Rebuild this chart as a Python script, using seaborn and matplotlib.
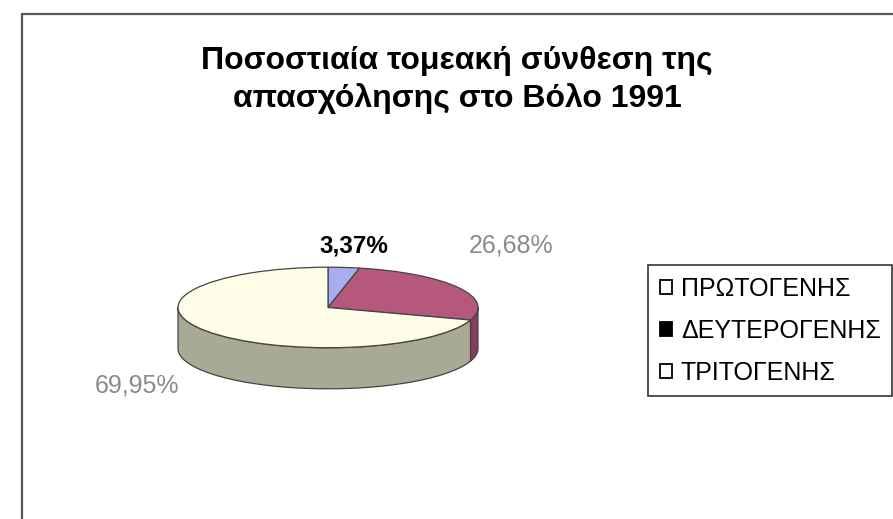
import numpy as np
import matplotlib
matplotlib.use("Agg")
import matplotlib.pyplot as plt
import seaborn as sns
from matplotlib.patches import Patch, Rectangle, Polygon

sns.set_theme(style="white")
plt.rcParams['font.family'] = ['Liberation Sans', 'DejaVu Sans']
plt.rcParams['text.color'] = 'black'

# ---- data ----
categories = ["ΠΡΩΤΟΓΕΝΗΣ", "ΔΕΥΤΕΡΟΓΕΝΗΣ", "ΤΡΙΤΟΓΕΝΗΣ"]
values = [3.37, 26.68, 69.95]
value_labels = ["3,37%", "26,68%", "69,95%"]
top_colors = ["#a9acef", "#b5587b", "#fdfde8"]
side_colors = ["#7f84c4", "#8a3c5d", "#a8aa95"]
legend_face = ["white", "black", "white"]
title = "Ποσοστιαία τομεακή σύνθεση της\nαπασχόλησης στο Βόλο 1991"

W, H = 893, 519
fig = plt.figure(figsize=(W / 100, H / 100), dpi=100)
fig.patch.set_facecolor("white")

# chart frame
fig.patches.append(Rectangle((22 / W, -0.1), 1.0, (H - 14) / H + 0.1,
                             transform=fig.transFigure, fill=False,
                             edgecolor="#555555", linewidth=1.6))

fig.text(457 / W, 1 - 80 / H, title, ha="center", va="center",
         fontsize=23, fontweight="bold", linespacing=1.3, color="black")

# pie axes (top face ellipse + extruded side)
depth = 1.02
ax = fig.add_axes([175 / W, (H - 390) / H, 306 / W, 124 / H])
wedges, _ = ax.pie(values, colors=top_colors, startangle=90, counterclock=False,
                   radius=1, wedgeprops=dict(edgecolor="#444444", linewidth=0.9))
for w in wedges:
    w.set_zorder(3)

total = float(sum(values))
cum = np.cumsum([0] + values) / total
bounds = 90 - 360 * cum  # decreasing angles
for k in range(len(values)):
    lo, hi = bounds[k + 1], bounds[k]
    a0, a1 = max(lo, -180), min(hi, 0)
    if a1 <= a0:
        continue
    th = np.radians(np.linspace(a0, a1, 100))
    top = np.column_stack([np.cos(th), np.sin(th)])
    bot = np.column_stack([np.cos(th[::-1]), np.sin(th[::-1]) - depth])
    poly = Polygon(np.vstack([top, bot]), closed=True, facecolor=side_colors[k],
                   edgecolor="#444444", linewidth=0.9, zorder=1)
    ax.add_patch(poly)
ax.set_aspect("auto")
ax.set_xlim(-1.02, 1.02)
ax.set_ylim(-1 - depth - 0.03, 1.03)
ax.axis("off")

# value labels
fig.text(354 / W, 1 - 246 / H, value_labels[0], ha="center", va="center",
         fontsize=17.5, fontweight="bold", color="black")
fig.text(511 / W, 1 - 245 / H, value_labels[1], ha="center", va="center",
         fontsize=18, color="#8a8a8a")
fig.text(137 / W, 1 - 385 / H, value_labels[2], ha="center", va="center",
         fontsize=18, color="#8a8a8a")

# legend
handles = [Patch(facecolor=legend_face[i], edgecolor="black", linewidth=1.3)
           for i in range(len(categories))]
leg = fig.legend(handles, categories, loc="upper left",
                 bbox_to_anchor=(648 / W, 1 - 265 / H), frameon=True,
                 fontsize=18, handlelength=0.5, handleheight=0.5,
                 handletextpad=0.35, labelspacing=0.72, borderpad=0.46,
                 borderaxespad=0, fancybox=False, labelcolor="black")
leg.get_frame().set_edgecolor("black")
leg.get_frame().set_linewidth(1.2)

fig.savefig("out.png", dpi=100, facecolor="white")
